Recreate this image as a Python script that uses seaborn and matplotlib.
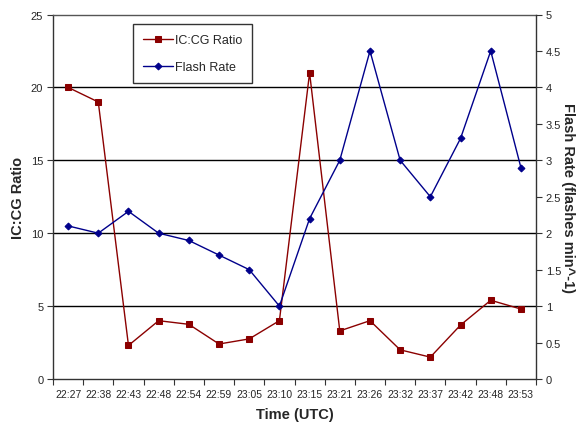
import numpy as np
import pandas as pd
import matplotlib
matplotlib.use("Agg")
import matplotlib.pyplot as plt
import seaborn as sns

times = ["22:27", "22:38", "22:43", "22:48", "22:54", "22:59", "23:05", "23:10",
         "23:15", "23:21", "23:26", "23:32", "23:37", "23:42", "23:48", "23:53"]
ic_cg_ratio = [20.0, 19.0, 2.3, 4.0, 3.75, 2.4, 2.75, 4.0,
               21.0, 3.3, 4.0, 2.0, 1.5, 3.7, 5.4, 4.8]
flash_rate = [2.1, 2.0, 2.3, 2.0, 1.9, 1.7, 1.5, 1.0,
              2.2, 3.0, 4.5, 3.0, 2.5, 3.3, 4.5, 2.9]

df = pd.DataFrame({"pos": np.arange(len(times)), "time": times,
                   "ratio": ic_cg_ratio, "rate": flash_rate})

sns.set_style("white")
plt.rcParams["font.family"] = ["Liberation Sans", "DejaVu Sans"]

fig = plt.figure(figsize=(5.81, 4.27), dpi=100)
ax = fig.add_axes([53 / 581, 47 / 427, 483 / 581, 364.5 / 427])
ax2 = ax.twinx()

red = "#8B0000"
navy = "#00008B"

sns.lineplot(data=df, x="pos", y="ratio", ax=ax, color=red, marker="s",
             markersize=5, markeredgecolor=red, linewidth=1.0,
             label="IC:CG Ratio", legend=False)
sns.lineplot(data=df, x="pos", y="rate", ax=ax2, color=navy, marker="D",
             markersize=3.5, markeredgecolor=navy, linewidth=1.0,
             label="Flash Rate", legend=False)

n = len(times)
ax.set_xlim(-0.5, n - 0.5)
ax.set_ylim(0, 25)
ax2.set_ylim(0, 5)
ax.set_yticks(np.arange(0, 26, 5))
ax2.set_yticks(np.arange(0, 5.01, 0.5))
ax2.set_yticklabels(["0", "0.5", "1", "1.5", "2", "2.5", "3", "3.5", "4", "4.5", "5"])

# category boundaries carry the tick marks, centres carry the labels
ax.set_xticks(np.arange(-0.5, n, 1.0))
ax.set_xticklabels([])
ax.set_xticks(np.arange(n), minor=True)
ax.set_xticklabels(times, minor=True, fontsize=7.5)
ax.tick_params(axis="x", which="major", length=4, width=0.8, color="#333333", direction="out", bottom=True)
ax.tick_params(axis="x", which="minor", length=0, pad=7)

ax.tick_params(axis="y", length=4, width=0.8, direction="out", left=True, labelsize=8, pad=3, color="#333333")
ax2.tick_params(axis="y", length=4, width=0.8, direction="out", right=True, labelsize=8, pad=3, color="#333333")

for yv in [5, 10, 15, 20]:
    ax.axhline(yv, color="black", linewidth=1.0, zorder=0)

for a in (ax, ax2):
    for s in a.spines.values():
        s.set_visible(False)
ax.spines["left"].set_visible(True)
ax.spines["bottom"].set_visible(True)
ax.spines["top"].set_visible(True)
ax2.spines["right"].set_visible(True)
ax.spines["left"].set_color("#333333")
ax.spines["bottom"].set_color("#333333")
ax.spines["top"].set_color("#555555")
ax2.spines["right"].set_color("#333333")
for s in (ax.spines["left"], ax.spines["bottom"], ax2.spines["right"], ax.spines["top"]):
    s.set_linewidth(1.0)

ax.set_xlabel("Time (UTC)", fontsize=10.5, fontweight="bold", labelpad=6)
ax.set_ylabel("IC:CG Ratio", fontsize=10.5, fontweight="bold", labelpad=16)
ax.yaxis.set_label_coords(-0.058, 0.5)
ax2.set_ylabel("Flash Rate (flashes min^-1)", fontsize=10.5, fontweight="bold",
               rotation=270, labelpad=10)

h1, l1 = ax.get_legend_handles_labels()
h2, l2 = ax2.get_legend_handles_labels()
leg = ax2.legend(h1 + h2, l1 + l2, loc="upper left", bbox_to_anchor=(0.165, 0.973),
                 fontsize=9, frameon=True, fancybox=False, edgecolor="black",
                 borderpad=0.8, borderaxespad=0, labelspacing=1.2, handlelength=2.4,
                 handletextpad=0.2)
leg.get_frame().set_linewidth(1.0)

fig.savefig("out.png", dpi=100)
